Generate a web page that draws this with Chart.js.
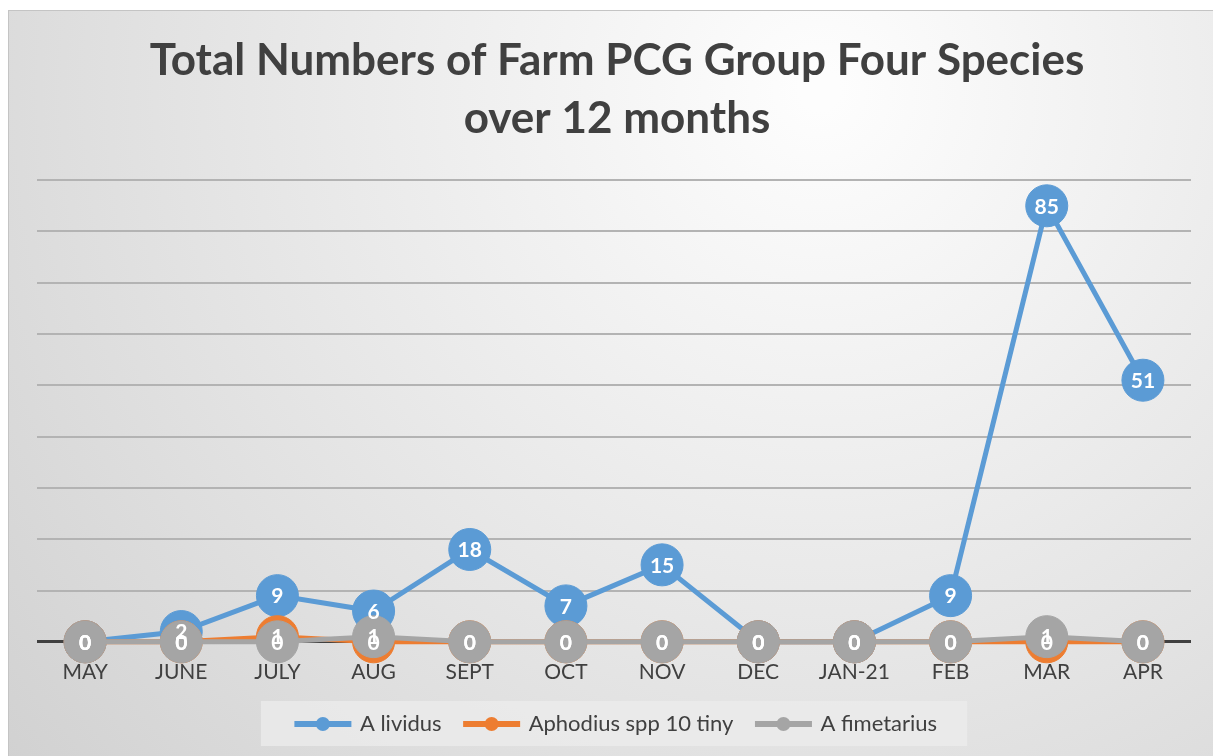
<!DOCTYPE html>
<html>
<head>
<meta charset="utf-8">
<script src="https://cdn.jsdelivr.net/npm/chart.js@4.4.0/dist/chart.umd.min.js"></script>
<style>
  html, body { margin: 0; padding: 0; background: #fff; overflow: hidden; }
</style>
</head>
<body>
<canvas id="chart" width="1213" height="756"></canvas>
<script>
const months = ['MAY', 'JUNE', 'JULY', 'AUG', 'SEPT', 'OCT', 'NOV', 'DEC', 'JAN-21', 'FEB', 'MAR', 'APR'];
const aLividus = [0, 2, 9, 6, 18, 7, 15, 0, 0, 9, 85, 51];
const aphodiusTiny = [0, 0, 1, 0, 0, 0, 0, 0, 0, 0, 0, 0];
const aFimetarius = [0, 0, 0, 1, 0, 0, 0, 0, 0, 0, 1, 0];
const seriesNames = ['A lividus', 'Aphodius spp 10 tiny', 'A fimetarius'];
const seriesColors = ['#5B9BD5', '#ED7D31', '#A5A5A5'];
const titleLines = ['Total Numbers of Farm PCG Group Four Species', 'over 12 months'];

const FONT = 'Lato, Carlito, "Open Sans", sans-serif';

// frame + gradient background, and the light box behind the legend
const background = {
    id: 'background',
    beforeDraw(chart) {
        const c = chart.ctx;
        const w = chart.width, h = chart.height;
        c.save();
        c.fillStyle = '#ffffff';
        c.fillRect(0, 0, w, h);
        const g = c.createRadialGradient(820, 90, 20, 820, 90, 1150);
        g.addColorStop(0, '#fdfdfd');
        g.addColorStop(0.55, '#e3e3e3');
        g.addColorStop(1, '#cdcdcd');
        c.fillStyle = g;
        c.fillRect(8, 10, w - 8, h - 10);
        c.strokeStyle = '#c4c4c4';
        c.lineWidth = 1;
        c.strokeRect(8.5, 10.5, w - 8, h - 10);

        const boxes = chart.legend && chart.legend.legendHitBoxes;
        if (boxes && boxes.length) {
            const left = Math.min(...boxes.map(b => b.left)) - 36;
            const right = Math.max(...boxes.map(b => b.left + b.width)) + 30;
            const mid = boxes[0].top + boxes[0].height / 2;
            c.fillStyle = 'rgba(236,236,236,0.75)';
            c.fillRect(left, mid - 23, right - left, 45);
        }
        c.restore();
    }
};

// values written inside the markers
const pointLabels = {
    id: 'pointLabels',
    afterDatasetsDraw(chart) {
        const c = chart.ctx;
        c.save();
        c.font = 'bold 21px ' + FONT;
        c.fillStyle = '#ffffff';
        c.textAlign = 'center';
        c.textBaseline = 'middle';
        chart.data.datasets.forEach((ds, i) => {
            const meta = chart.getDatasetMeta(i);
            meta.data.forEach((pt, j) => {
                c.fillText(String(ds.data[j]), pt.x, pt.y + 1);
            });
        });
        c.restore();
    }
};

// small dot in the middle of each legend line
const legendDots = {
    id: 'legendDots',
    afterDraw(chart) {
        const legend = chart.legend;
        if (!legend || !legend.legendHitBoxes) return;
        const c = chart.ctx;
        const bw = chart.options.plugins.legend.labels.boxWidth;
        c.save();
        legend.legendHitBoxes.forEach((b, i) => {
            const item = legend.legendItems[i];
            c.fillStyle = seriesColors[item.datasetIndex];
            c.beginPath();
            c.arc(b.left + bw / 2, b.top + b.height / 2, 7, 0, Math.PI * 2);
            c.fill();
        });
        c.restore();
    }
};

function makeSet(label, data, color, order) {
    return {
        label: label,
        data: data,
        borderColor: color,
        backgroundColor: color,
        borderWidth: 5,
        pointRadius: 21,
        pointHoverRadius: 21,
        pointBackgroundColor: color,
        pointBorderColor: color,
        pointBorderWidth: 1,
        tension: 0,
        fill: false,
        clip: false,
        order: order
    };
}

const ctx = document.getElementById('chart').getContext('2d');
new Chart(ctx, {
    type: 'line',
    data: {
        labels: months,
        datasets: [
            makeSet(seriesNames[0], aLividus, seriesColors[0], 3),
            makeSet(seriesNames[1], aphodiusTiny, seriesColors[1], 2),
            makeSet(seriesNames[2], aFimetarius, seriesColors[2], 1)
        ]
    },
    options: {
        responsive: false,
        animation: false,
        events: [],
        layout: { padding: { left: 37, right: 16, top: 10, bottom: 11 } },
        scales: {
            x: {
                offset: true,
                grid: { display: false },
                border: { display: false },
                ticks: { color: '#404040', font: { family: FONT, size: 21 }, padding: 10 },
                afterFit: scale => { scale.height -= 6; }
            },
            y: {
                min: 0,
                max: 90,
                ticks: { display: false, stepSize: 10 },
                border: { display: false },
                grid: {
                    drawTicks: false,
                    color: c => c.tick.value === 0 ? '#404040' : '#b3b3b3',
                    lineWidth: c => c.tick.value === 0 ? 3 : 2
                }
            }
        },
        plugins: {
            tooltip: { enabled: false },
            title: {
                display: true,
                text: titleLines,
                color: '#404040',
                font: { family: FONT, size: 44, weight: 'bold', lineHeight: 1.32 },
                padding: { top: 22, bottom: 32 }
            },
            legend: {
                position: 'bottom',
                labels: {
                    color: '#404040',
                    font: { family: FONT, size: 22 },
                    boxWidth: 52,
                    boxHeight: 1,
                    padding: 24,
                    sort: (a, b) => a.datasetIndex - b.datasetIndex
                }
            }
        }
    },
    plugins: [background, pointLabels, legendDots]
});
</script>
</body>
</html>
